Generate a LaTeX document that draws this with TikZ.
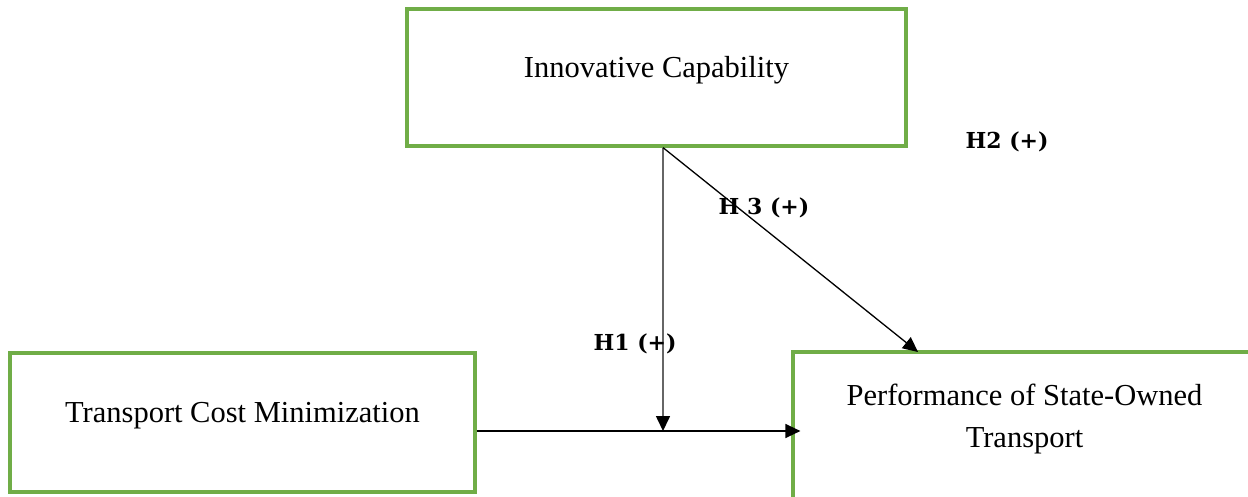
\documentclass[tikz,border=0pt]{standalone}
\usepackage{fontspec}
\setmainfont{Liberation Serif}
\newfontfamily\hypfont{DejaVu Serif}
\usetikzlibrary{arrows.meta}
\definecolor{boxgreen}{HTML}{70AD47}
\tikzset{
  varbox/.style={draw=boxgreen, line width=3.2pt, rectangle, align=center,
    font=\fontsize{30.5}{42}\selectfont, text height=21pt, text depth=21pt},
  hyp/.style={font=\hypfont\bfseries\fontsize{22}{24}\selectfont, inner sep=0pt},
}
\begin{document}
\begin{tikzpicture}[x=1pt, y=-1pt, >={Triangle[length=15pt,width=14pt,color=black]}]
      \useasboundingbox (0,0) rectangle (1248,496);
      \clip (0,0) rectangle (1248,496);
      \node[varbox, minimum width=499pt, minimum height=137pt] (ic) at (656.5,77.5) {Innovative Capability};
      \node[varbox, minimum width=465pt, minimum height=139pt] (tcm) at (242.5,422.5) {Transport Cost Minimization};
      \node[varbox, minimum width=463pt, minimum height=190pt, text height=0pt, text depth=0pt] (pst) at (1024.5,447) {Performance of State-Owned\\Transport};
      \coordinate (j) at (663,431);
      \coordinate (h3end) at (918,352);
      \draw[->, line width=1.3pt, shorten >=-9pt] (tcm.east |- j) -- (pst.west |- j);
      \draw[->, line width=1.6pt, black!60] (ic.south -| j) -- (j);
      \draw[->, line width=1.3pt] (ic.south -| j) -- (h3end);
      \node[hyp] (h1) at (635,344) {H1 (+)};
      \node[hyp] (h2) at (1007,142) {H2 (+)};
      \node[hyp] (h3) at (764,208) {H 3 (+)};
\end{tikzpicture}
\end{document}
